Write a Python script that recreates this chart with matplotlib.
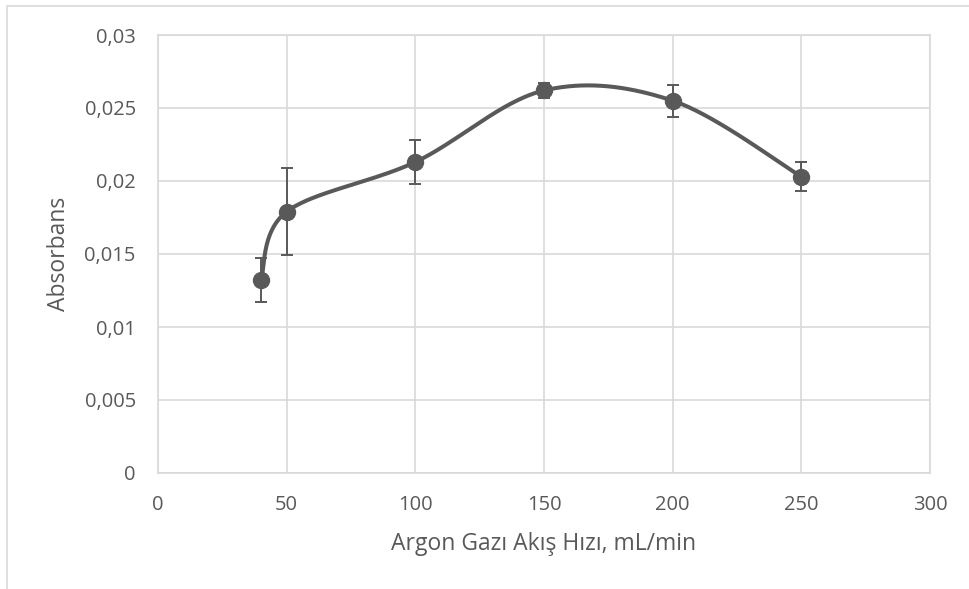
import numpy as np
import matplotlib.pyplot as plt
from matplotlib.patches import Rectangle

# Argon flow rate vs. absorbance, with standard deviation
flow = [40, 50, 100, 150, 200, 250]
absorbans = [0.0132, 0.0179, 0.0213, 0.0262, 0.0255, 0.0203]
hata = [0.0015, 0.0030, 0.0015, 0.0005, 0.0011, 0.0010]

x_ticks = [0, 50, 100, 150, 200, 250, 300]
y_ticks = [0, 0.005, 0.01, 0.015, 0.02, 0.025, 0.03]
y_labels = ["0", "0,005", "0,01", "0,015", "0,02", "0,025", "0,03"]

gray = "#595959"
grid = "#d9d9d9"

plt.rcParams["font.family"] = ["Open Sans", "DejaVu Sans"]


def smooth_curve(xs, ys, n=60):
    # Excel-style smoothed line: Bezier segments with Catmull-Rom control points
    p = np.column_stack([xs, ys]).astype(float)
    out = []
    for i in range(len(p) - 1):
        p0 = p[i - 1] if i > 0 else p[i]
        p1, p2 = p[i], p[i + 1]
        p3 = p[i + 2] if i + 2 < len(p) else p[i + 1]
        c1 = p1 + (p2 - p0) / 6
        c2 = p2 - (p3 - p1) / 6
        t = np.linspace(0, 1, n)[:, None]
        seg = ((1 - t) ** 3) * p1 + 3 * ((1 - t) ** 2) * t * c1 + 3 * (1 - t) * t ** 2 * c2 + t ** 3 * p2
        out.append(seg if i == 0 else seg[1:])
    c = np.vstack(out)
    return c[:, 0], c[:, 1]


fig = plt.figure(figsize=(9.69, 5.89), dpi=100)
ax = fig.add_axes([158 / 969, 1 - 473 / 589, (930 - 158) / 969, (473 - 35) / 589])

# chart frame
fig.patches.append(Rectangle((7 / 969, -0.1), 1.1, 1 - 6 / 589 + 0.1, transform=fig.transFigure,
                             fill=False, edgecolor=grid, linewidth=1.2))

sx, sy = smooth_curve(flow, absorbans)
ax.plot(sx, sy, color=gray, linewidth=2.9, zorder=3)
ax.errorbar(flow, absorbans, yerr=hata, fmt="o", color=gray, markersize=11.5,
            ecolor=gray, elinewidth=1.4, capsize=4.5, capthick=1.4, zorder=4)

ax.set_xlim(0, 300)
ax.set_ylim(0, 0.03)
ax.set_xticks(x_ticks)
ax.set_yticks(y_ticks)
ax.set_yticklabels(y_labels)
ax.grid(True, color=grid, linewidth=1.2)
ax.set_axisbelow(True)
for s in ax.spines.values():
    s.set_color(grid)
    s.set_linewidth(1.2)
ax.tick_params(length=0, labelsize=14.5, colors=gray)
ax.tick_params(axis="x", pad=16)
ax.tick_params(axis="y", pad=16)

ax.set_xlabel("Argon Gazı Akış Hızı, mL/min", fontsize=16.5, color=gray, labelpad=12)
ax.set_ylabel("Absorbans", fontsize=16.5, color=gray, labelpad=10)

fig.savefig("out.png", dpi=100)
